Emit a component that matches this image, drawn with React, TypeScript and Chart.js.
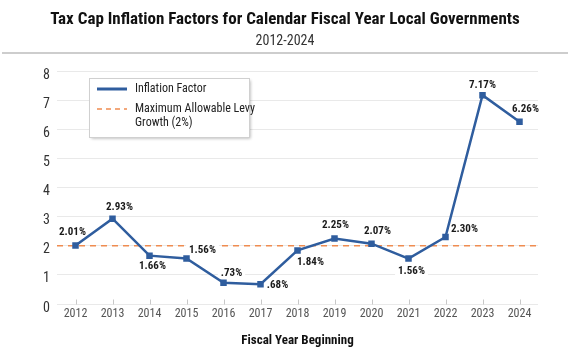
import React, { useEffect, useRef } from 'react';
import { Chart, registerables } from 'chart.js';

Chart.register(...registerables);

const years = ['2012', '2013', '2014', '2015', '2016', '2017', '2018', '2019', '2020', '2021', '2022', '2023', '2024'];
const inflationFactor = [2.01, 2.93, 1.66, 1.56, 0.73, 0.68, 1.84, 2.25, 2.07, 1.56, 2.3, 7.17, 6.26];
const pointLabels = ['2.01%', '2.93%', '1.66%', '1.56%', '.73%', '.68%', '1.84%', '2.25%', '2.07%', '1.56%', '2.30%', '7.17%', '6.26%'];
const levyCap = 2;
const yTicks = [0, 1, 2, 3, 4, 5, 6, 7, 8];

const titleText = 'Tax Cap Inflation Factors for Calendar Fiscal Year Local Governments';
const subtitleText = '2012-2024';
const xTitle = 'Fiscal Year Beginning';
const legendLine = 'Inflation Factor';
const legendDash = ['Maximum Allowable Levy', 'Growth (2%)'];

// label placement offsets (style), in px from point
const labelOffsets: [number, number][] = [
  [-3, -13], [7, -11], [3, 11], [16, -8], [8, -9], [17, 1], [13, 12],
  [1, -13], [6, -12], [3, 13], [19, -8], [0, -10], [6, -12],
];

const FONT = "'Liberation Sans Narrow', 'Roboto Condensed', 'DejaVu Sans Condensed', 'Liberation Sans', sans-serif";
const BLUE = '#2f5d9e';
const ORANGE = '#ef8c50';

const decorPlugin = {
  id: 'decor',
  beforeDatasetsDraw(chart: any) {
    const { ctx, chartArea, scales } = chart;
    const x = scales.x;
    const y = scales.y;
    ctx.save();
    // tick marks rising from zero line
    ctx.strokeStyle = '#c8c8c8';
    ctx.lineWidth = 1;
    const y0 = Math.round(y.getPixelForValue(0)) + 0.5;
    years.forEach((_, i) => {
      const px = Math.round(x.getPixelForValue(i)) + 0.5;
      ctx.beginPath();
      ctx.moveTo(px, y0 - 5);
      ctx.lineTo(px, y0);
      ctx.stroke();
    });
    // levy cap dashed line
    const yc = y.getPixelForValue(levyCap);
    ctx.strokeStyle = ORANGE;
    ctx.lineWidth = 1.5;
    ctx.setLineDash([6, 5]);
    ctx.beginPath();
    ctx.moveTo(chartArea.left, yc);
    ctx.lineTo(chartArea.right, yc);
    ctx.stroke();
    ctx.setLineDash([]);
    // point value labels with white background
    ctx.font = `bold 11px ${FONT}`;
    ctx.textAlign = 'center';
    ctx.textBaseline = 'middle';
    const meta = chart.getDatasetMeta(0);
    meta.data.forEach((pt: any, i: number) => {
      const [dx, dy] = labelOffsets[i];
      const lx = pt.x + dx;
      const ly = pt.y + dy;
      const w = ctx.measureText(pointLabels[i]).width;
      ctx.fillStyle = '#ffffff';
      ctx.fillRect(lx - w / 2 - 3, ly - 7, w + 6, 14);
      ctx.fillStyle = '#1a1a1a';
      ctx.fillText(pointLabels[i], lx, ly);
    });
    ctx.restore();
  },
  afterDraw(chart: any) {
    const { ctx, chartArea, width } = chart;
    ctx.save();
    // header
    ctx.textAlign = 'center';
    ctx.textBaseline = 'middle';
    ctx.fillStyle = '#111111';
    ctx.font = `bold 17px ${FONT}`;
    ctx.fillText(titleText, width / 2, 20);
    ctx.fillStyle = '#333333';
    ctx.font = `14px ${FONT}`;
    ctx.fillText(subtitleText, width / 2, 41);
    ctx.strokeStyle = '#bdbdbd';
    ctx.lineWidth = 1.5;
    ctx.beginPath();
    ctx.moveTo(2, 53);
    ctx.lineTo(width - 2, 53);
    ctx.stroke();
    // legend box
    const bx = chartArea.left + 32;
    const by = chartArea.top + 7;
    const bw = 160;
    const bh = 59;
    ctx.save();
    ctx.shadowColor = 'rgba(0,0,0,0.3)';
    ctx.shadowBlur = 3;
    ctx.shadowOffsetX = 1.5;
    ctx.shadowOffsetY = 1.5;
    ctx.fillStyle = '#ffffff';
    ctx.fillRect(bx, by, bw, bh);
    ctx.restore();
    ctx.strokeStyle = '#d0d0d0';
    ctx.lineWidth = 1;
    ctx.strokeRect(bx + 0.5, by + 0.5, bw, bh);
    ctx.strokeStyle = BLUE;
    ctx.lineWidth = 3;
    ctx.beginPath();
    ctx.moveTo(bx + 8, by + 11);
    ctx.lineTo(bx + 38, by + 11);
    ctx.stroke();
    ctx.strokeStyle = ORANGE;
    ctx.lineWidth = 1.5;
    ctx.setLineDash([5, 4]);
    ctx.beginPath();
    ctx.moveTo(bx + 8, by + 31);
    ctx.lineTo(bx + 38, by + 31);
    ctx.stroke();
    ctx.setLineDash([]);
    ctx.fillStyle = '#222222';
    ctx.font = `12px ${FONT}`;
    ctx.textAlign = 'left';
    ctx.fillText(legendLine, bx + 46, by + 11);
    ctx.fillText(legendDash[0], bx + 46, by + 31);
    ctx.fillText(legendDash[1], bx + 46, by + 45);
    ctx.restore();
  },
};

export default function App() {
  const canvasRef = useRef<HTMLCanvasElement | null>(null);
  useEffect(() => {
    if (!canvasRef.current) return;
    const chart = new Chart(canvasRef.current, {
      type: 'line',
      data: {
        labels: years,
        datasets: [
          {
            label: legendLine,
            data: inflationFactor,
            borderColor: BLUE,
            backgroundColor: BLUE,
            borderWidth: 2.5,
            pointStyle: 'rect',
            pointRadius: 4.6,
            pointBorderWidth: 0,
            tension: 0,
          },
        ],
      },
      options: {
        animation: false,
        responsive: false,
        layout: { padding: { top: 71, right: 32, bottom: 0, left: 0 } },
        plugins: { legend: { display: false }, tooltip: { enabled: false }, title: { display: false } },
        scales: {
          x: {
            offset: true,
            grid: { display: false, drawTicks: false },
            border: { display: false },
            ticks: { color: '#555555', font: { family: FONT, size: 12 }, padding: 3 },
            title: {
              display: true,
              text: xTitle,
              color: '#111111',
              font: { family: FONT, size: 13, weight: 'bold' },
              padding: { top: 0, bottom: 13 },
            },
            afterFit(scale: any) {
              scale.height = 58;
            },
          },
          y: {
            min: 0,
            max: 8,
            afterBuildTicks(scale: any) {
              scale.ticks = yTicks.map((v) => ({ value: v }));
            },
            grid: { color: '#e9e9e9', lineWidth: 1, drawTicks: false },
            border: { display: false },
            ticks: { color: '#333333', font: { family: FONT, size: 14 }, padding: 7, labelOffset: 4 },
            afterFit(scale: any) {
              scale.width = 57;
            },
          },
        },
      },
      plugins: [decorPlugin],
    });
    return () => chart.destroy();
  }, []);
  return (
    <div style={{ position: 'fixed', left: 0, top: 0, width: 570, height: 362, background: '#ffffff' }}>
      <canvas ref={canvasRef} width={570} height={362} />
    </div>
  );
}
